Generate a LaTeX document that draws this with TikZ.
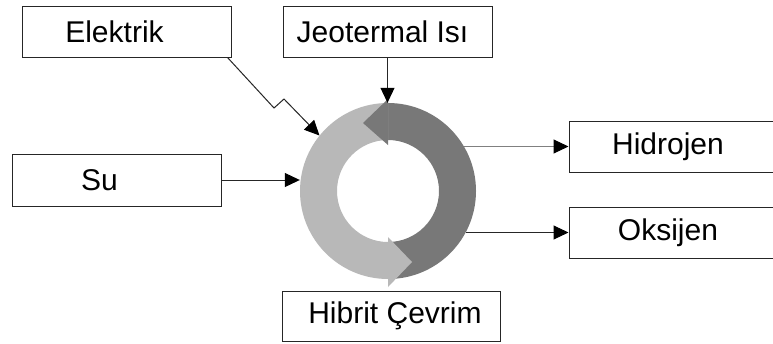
\documentclass[tikz,border=0pt]{standalone}
\usepackage{fontspec}
\setmainfont{Liberation Sans}
\usetikzlibrary{arrows.meta}
\definecolor{ringlight}{gray}{0.72}
\definecolor{ringdark}{gray}{0.47}
\begin{document}
\begin{tikzpicture}[x=1pt, y=-1pt,
    box/.style={draw=black!85, line width=1pt, minimum width=209pt, minimum height=51pt,
        inner sep=0pt, font=\fontsize{30}{36}\selectfont},
    arr/.style={draw=black!85, line width=1pt, -{Triangle[length=15pt,width=14pt,color=black]}}]
    % Hybrid cycle: inputs on the left and top, products on the right
    \useasboundingbox[fill=white] (0,0) rectangle (773,343);
    \coordinate (c) at (388,191);
    \fill[ringdark] (c) ++(-90:88) arc (-90:90:88) -- ++(0,-37) arc (90:-90:51) -- cycle;
    \fill[ringlight] (c) ++(90:88) arc (90:270:88) -- ++(0,37) arc (270:90:51) -- cycle;
    \fill[ringdark, shift={(c)}] (0,-92) -- (-25,-68) -- (0,-46) -- cycle;
    \fill[ringlight, shift={(c)}] (0,46) -- (24,71) -- (0,96) -- cycle;
    \node[circle, minimum size=176pt, inner sep=0pt] (ring) at (c) {};
    \node[box] (elektrik) at (126.5,31.5) {Elektrik\hspace*{24pt}};
    \node[box] (jeotermal) at (387.5,31.5) {Jeotermal Isı\hspace*{10pt}};
    \node[box, minimum height=52pt] (su) at (116.5,180) {Su\hspace*{34pt}};
    \node[box, minimum width=218pt, minimum height=50pt] (hibrit) at (391,316) {\hspace*{8pt}Hibrit Çevrim};
    \node[box] (hidrojen) at (673.5,146.5) {Hidrojen\hspace*{11pt}};
    \node[box] (oksijen) at (673.5,232.5) {Oksijen\hspace*{11pt}};
    \coordinate (z1) at (274,108);
    \coordinate (z2) at (284,99);
    \draw[arr] ([xshift=-4pt]elektrik.south east) -- (z1) -- (z2) -- (ring.141);
    \draw[arr] (jeotermal.south) -- (jeotermal.south |- ring.north);
    \draw[arr] (su.east) -- (su.east -| ring.west);
    \draw[arr, draw=black!50] (hidrojen.west -| ring.30) -- (hidrojen.west);
    \draw[arr] (oksijen.west -| ring.-28) -- (oksijen.west);
\end{tikzpicture}
\end{document}
